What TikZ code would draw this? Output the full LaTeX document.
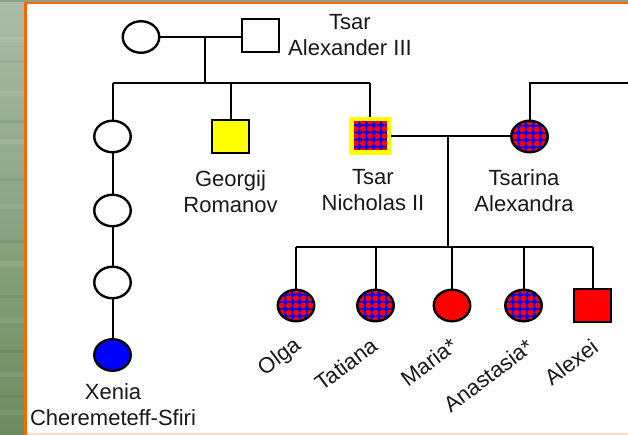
\documentclass[tikz,border=0pt]{standalone}
\usepackage{fontspec}
\setmainfont{Liberation Sans}
\usetikzlibrary{shapes.geometric}

\definecolor{frameorange}{RGB}{255,102,0}
\definecolor{pedblue}{RGB}{0,0,255}
\definecolor{pedred}{RGB}{255,0,0}
\definecolor{pedyellow}{RGB}{255,255,0}
\definecolor{sageA}{RGB}{170,188,168}
\definecolor{sageB}{RGB}{108,140,96}
\definecolor{sageC}{RGB}{140,160,135}

\tikzset{
  female/.style={ellipse, draw=black, line width=2.4pt, minimum width=36.5pt,
    minimum height=31.5pt, inner sep=0pt},
  male/.style={rectangle, draw=black, line width=2.4pt, minimum width=36.5pt,
    minimum height=32.5pt, inner sep=0pt},
  carrier/.style={path picture={
    \fill[pedblue] (path picture bounding box.south west)
      rectangle (path picture bounding box.north east);
    \foreach \i in {-3,...,3}
      \foreach \j in {-3,...,3}
        \fill[pedred] ([shift={(\i*7.2pt,\j*7.2pt)}]path picture bounding box.center)
          circle (3.05pt);}},
  link/.style={line width=2pt, black},
  lbl/.style={font=\fontsize{22}{26}\selectfont, align=center, anchor=north,
    inner sep=0pt, text=black!90},
  kid/.style={font=\fontsize{22}{26}\selectfont, rotate=37, anchor=base east,
    inner sep=0pt, text=black!90},
}

\begin{document}
\begin{tikzpicture}[x=1pt, y=-1pt]
  \useasboundingbox (0,0) rectangle (628,435);

  % slide background and frame
  \shade[top color=sageA, bottom color=sageB] (0,0) rectangle (24,435);
  \foreach \yy/\op in {38/0.08, 92/0.07, 140/0.1, 205/0.07, 262/0.09, 318/0.07, 372/0.08, 410/0.06}
    \shade[top color=white, bottom color=white, middle color=white, opacity=\op]
      (0,\yy) rectangle (24,\yy+4);
  \foreach \yy/\op in {60/0.05, 120/0.06, 178/0.05, 240/0.06, 295/0.05, 350/0.06, 395/0.05}
    \fill[black, opacity=\op] (0,\yy) rectangle (24,\yy+3);
  \fill[sageC] (0,0) rectangle (628,2);
  \fill[white] (24,2) rectangle (628,435);
  \fill[frameorange] (24,2) rectangle (628,4.5);
  \fill[frameorange] (24,2) rectangle (26.5,435);
  \fill[frameorange!22] (26.5,432.5) rectangle (628,435);

  % generation I
  \node[female] (grandma) at (141,37) {};
  \node[male] (alex3) at (260.5,35.5) {};
  \node[lbl] (alex3lbl) at (350,14.5) {Tsar\\Alexander III};
  \coordinate (sib) at (205,83);

  % generation II
  \node[female] (aunt1) at (112.5,136.5) {};
  \node[female] (aunt2) at (112.5,210.5) {};
  \node[female] (aunt3) at (112.5,282.5) {};
  \node[female, fill=pedblue] (xenia) at (112.5,355) {};
  \node[lbl] (xenialbl) at (113,383.5) {Xenia\\Cheremeteff-Sfiri};

  \node[male, fill=pedyellow] (georgij) at (230.5,136.5) {};
  \node[lbl] (georgijlbl) at (230.5,170.5) {Georgij\\Romanov};

  \node[male, carrier, draw=pedyellow, line width=4.5pt, minimum width=37.5pt,
    minimum height=33.5pt] (nicholas) at (370,136) {};
  \node[lbl] (nicholaslbl) at (373,169.5) {Tsar\\Nicholas II};

  \node[female, carrier] (alexandra) at (529.5,136.5) {};
  \node[lbl] (alexandralbl) at (524,169) {Tsarina\\Alexandra};
  \coordinate (tsarinaparents) at (628,83);

  % generation III
  \coordinate (kids) at (448,247);
  \node[female, carrier] (olga) at (296,305.5) {};
  \node[female, carrier] (tatiana) at (375.5,305.5) {};
  \node[female, fill=pedred] (maria) at (452,305.5) {};
  \node[female, carrier] (anastasia) at (523.5,305.5) {};
  \node[male, fill=pedred] (alexei) at (592.5,305.5) {};

  \node[kid] (olgalbl) at (302,348) {Olga};
  \node[kid] (tatianalbl) at (379,349) {Tatiana};
  \node[kid] (marialbl) at (459,349) {Maria*};
  \node[kid] (anastasialbl) at (535,350) {Anastasia*};
  \node[kid] (alexeilbl) at (600,350) {Alexei};

  % connectors
  \draw[link] (grandma.east) -- (grandma.east -| alex3.west);
  \draw[link] (sib |- grandma.east) -- (sib);
  \draw[link] (aunt1.north |- sib) -- (nicholas.north |- sib);
  \foreach \n in {aunt1, georgij, nicholas}
    \draw[link] (\n.north) -- (\n.north |- sib);
  \draw[link] (aunt1) -- (aunt2);
  \draw[link] (aunt2) -- (aunt3);
  \draw[link] (aunt3) -- (xenia);

  \draw[link] (nicholas.east) -- (nicholas.east -| alexandra.west);
  \draw[link] (alexandra.north) |- (tsarinaparents);
  \draw[link] (kids |- nicholas.east) -- (kids);
  \draw[link] (olga.north |- kids) -- (alexei.north |- kids);
  \foreach \n in {olga, tatiana, maria, anastasia, alexei}
    \draw[link] (\n.north) -- (\n.north |- kids);
\end{tikzpicture}
\end{document}
